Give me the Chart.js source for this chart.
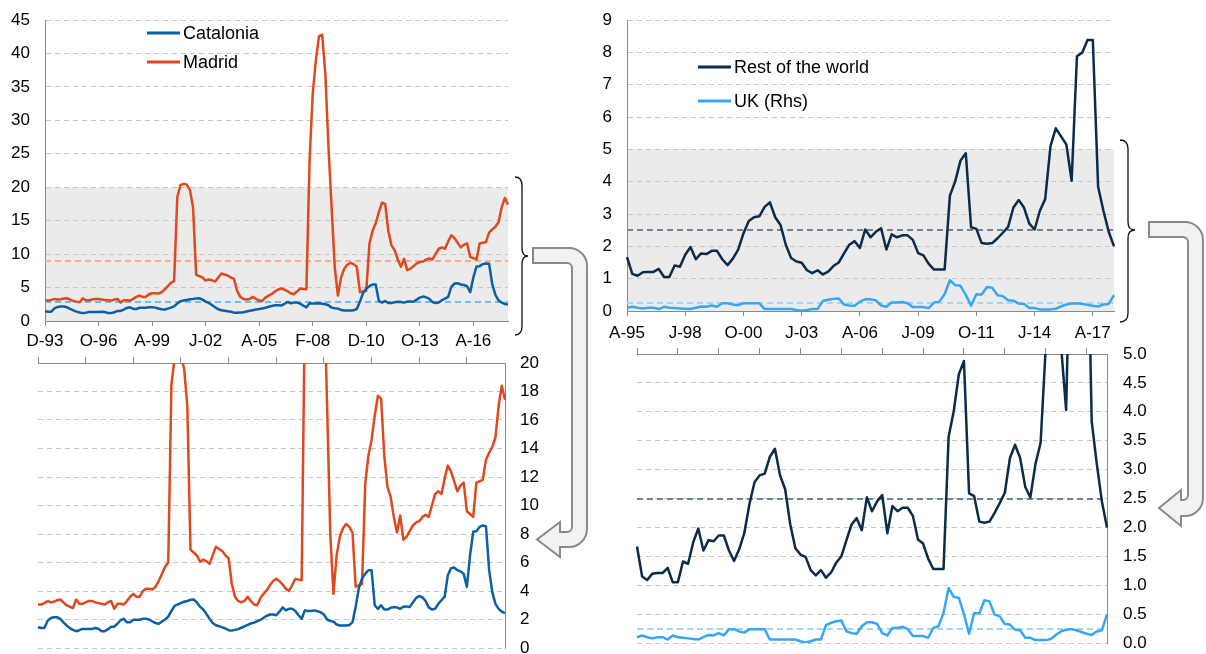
<!DOCTYPE html>
<html>
<head>
<meta charset="utf-8">
<script src="https://cdn.jsdelivr.net/npm/chart.js@4.4.1/dist/chart.umd.min.js"></script>
<style>
html, body { margin: 0; padding: 0; background: #fff; }
body { position: relative; width: 1206px; height: 654px; overflow: hidden; }
.box { position: absolute; }
#overlay { position: absolute; left: 0; top: 0; }
</style>
</head>
<body>
<div class="box" style="left:0;top:0"><canvas id="cTopLeft" width="515" height="352"></canvas></div>
<div class="box" style="left:0;top:340px"><canvas id="cBottomLeft" width="560" height="314"></canvas></div>
<div class="box" style="left:590px;top:0"><canvas id="cTopRight" width="530" height="350"></canvas></div>
<div class="box" style="left:590px;top:340px"><canvas id="cBottomRight" width="616" height="314"></canvas></div>

<svg id="overlay" width="1206" height="654">
  <!-- braces -->
  <path d="M515,177 Q522,177 522,186 L522,248 Q522,256 528,256 Q522,256 522,264 L522,326 Q522,335 515,335"
        fill="none" stroke="#111" stroke-width="1.3"/>
  <path d="M1120,140 Q1128,140 1128,149 L1128,222 Q1128,230 1135,230 Q1128,230 1128,238 L1128,313 Q1128,322 1120,322"
        fill="none" stroke="#111" stroke-width="1.3"/>
  <!-- pipe arrows -->
  <path d="M533,248 L569,248 A18,18 0 0 1 587,266 L587,529 A18,18 0 0 1 569,547 L560,547 L560,557 L537,539.5 L560,522 L560,532 L567,532 A5,5 0 0 0 572,527 L572,268 A5,5 0 0 0 567,263 L533,263 Z"
        fill="#f2f2f2" stroke="#8a8a8a" stroke-width="2"/>
  <path d="M1149,222 L1185,222 A18,18 0 0 1 1203,240 L1203,498 A18,18 0 0 1 1185,516 L1181,516 L1181,526 L1159,508 L1181,490 L1181,500 L1183,500 A5,5 0 0 0 1188,495 L1188,242 A5,5 0 0 0 1183,237 L1149,237 Z"
        fill="#f2f2f2" stroke="#8a8a8a" stroke-width="2"/>
</svg>

<script>
// --- DATA ---
const leftTickLabels = ['D-93', 'O-96', 'A-99', 'J-02', 'A-05', 'F-08', 'D-10', 'O-13', 'A-16'];
const rightTickLabels = ['A-95', 'J-98', 'O-00', 'J-03', 'A-06', 'J-09', 'O-11', 'J-14', 'A-17'];

// every 2 months from Dec-93
const catalonia = [
  1.45, 1.4, 1.4, 1.9, 2.1, 2.16, 2.16, 2.05, 1.8, 1.58,
  1.4, 1.27, 1.18, 1.25, 1.34, 1.34, 1.34, 1.34, 1.4, 1.35,
  1.18, 1.18, 1.3, 1.5, 1.5, 1.7, 1.95, 2.05, 1.8, 1.8,
  1.98, 1.98, 1.98, 2.05, 2.05, 2.0, 1.86, 1.75, 1.7, 1.85,
  2.0, 2.2, 2.6, 2.95, 3.06, 3.15, 3.25, 3.3, 3.38, 3.4,
  3.2, 2.9, 2.7, 2.4, 2.05, 1.75, 1.6, 1.53, 1.45, 1.37,
  1.25, 1.22, 1.27, 1.32, 1.42, 1.52, 1.62, 1.72, 1.78, 1.88,
  1.98, 2.12, 2.25, 2.35, 2.35, 2.3, 2.55, 2.85, 2.64, 2.75,
  2.75, 2.6, 2.3, 2.05, 2.64, 2.6, 2.6, 2.64, 2.58, 2.5,
  2.35, 2.0, 1.9, 1.85, 1.65, 1.58, 1.58, 1.58, 1.62, 1.8,
  2.9, 4.2, 4.87, 5.2, 5.46, 5.46, 3.0, 2.75, 3.0, 2.7,
  2.7, 2.82, 2.87, 2.85, 2.75, 2.9, 2.92, 2.87, 3.2, 3.5,
  3.65, 3.55, 3.3, 2.85, 2.7, 2.75, 3.1, 3.35, 3.6, 5.1,
  5.6, 5.65, 5.46, 5.38, 5.2, 4.3, 6.5, 8.16, 8.2, 8.5,
  8.6, 8.55, 5.5, 3.9, 3.1, 2.75, 2.55, 2.45
];
const madrid = [
  3.05, 3.05, 3.15, 3.3, 3.2, 3.25, 3.35, 3.4, 3.2, 3.0,
  2.9, 2.8, 3.4, 3.1, 3.1, 3.2, 3.3, 3.3, 3.2, 3.15,
  3.1, 3.05, 3.2, 3.3, 2.75, 3.1, 3.1, 3.05, 3.3, 3.6,
  3.8, 3.6, 3.6, 4.0, 4.15, 4.15, 4.1, 4.3, 4.7, 5.2,
  5.7, 6.0, 18.5, 20.3, 20.5, 20.4, 19.6, 17.0, 6.9, 6.7,
  6.5, 6.05, 6.2, 6.1, 5.9, 6.5, 7.1, 6.95, 6.8, 6.5,
  6.3, 4.5, 3.6, 3.3, 3.2, 3.3, 3.6, 3.3, 3.05, 3.0,
  3.5, 3.8, 4.05, 4.4, 4.7, 4.85, 4.7, 4.45, 4.15, 4.0,
  4.4, 4.85, 4.8, 4.75, 24, 34, 39, 42.6, 42.8, 37,
  26, 17, 8, 3.8, 6.5, 7.8, 8.4, 8.7, 8.5, 8.1,
  4.3, 4.4, 4.5, 11.5, 13.5, 14.6, 16.3, 17.7, 17.5, 13.5,
  11.3, 10.6, 9.2, 8.1, 9.3, 7.6, 7.8, 8.2, 8.6, 8.8,
  8.9, 9.2, 9.35, 9.2, 10.0, 10.8, 11.0, 10.8, 11.9, 12.8,
  12.4, 11.7, 11.0, 11.4, 11.6, 9.6, 9.4, 9.2, 11.6, 11.7,
  11.8, 13.2, 13.7, 14.1, 14.8, 17.0, 18.4, 17.4
];
// quarterly from Apr-95
const restOfWorld = [
  1.67, 1.15, 1.09, 1.2, 1.21, 1.21, 1.3, 1.05, 1.05, 1.41,
  1.37, 1.74, 1.98, 1.6, 1.78, 1.76, 1.86, 1.86, 1.6, 1.42,
  1.62, 1.9, 2.4, 2.78, 2.9, 2.93, 3.22, 3.36, 2.9, 2.66,
  2.05, 1.64, 1.53, 1.49, 1.26, 1.17, 1.26, 1.13, 1.22, 1.39,
  1.5, 1.78, 2.05, 2.16, 1.95, 2.52, 2.28, 2.45, 2.56, 1.9,
  2.37, 2.28, 2.34, 2.34, 2.2, 1.79, 1.72, 1.46, 1.28, 1.28,
  1.28, 3.57, 4.01, 4.65, 4.88, 2.59, 2.54, 2.1, 2.08, 2.1,
  2.25, 2.42, 2.6, 3.2, 3.43, 3.2, 2.7, 2.52, 3.1, 3.46,
  5.1, 5.65, 5.4, 5.15, 4.03, 7.88, 7.99, 8.38, 8.38, 3.84,
  3.1, 2.45, 2.0
];
const uk = [
  0.1, 0.13, 0.1, 0.08, 0.1, 0.1, 0.06, 0.13, 0.1, 0.09,
  0.08, 0.07, 0.06, 0.1, 0.14, 0.13, 0.17, 0.13, 0.24, 0.24,
  0.2, 0.18, 0.24, 0.24, 0.24, 0.24, 0.06, 0.06, 0.06, 0.06,
  0.06, 0.06, 0.03, 0.01, 0.03, 0.06, 0.06, 0.31, 0.35, 0.375,
  0.39, 0.2, 0.17, 0.16, 0.29, 0.36, 0.36, 0.33, 0.17, 0.13,
  0.26, 0.26, 0.28, 0.24, 0.12, 0.12, 0.12, 0.09, 0.26, 0.29,
  0.52, 0.95, 0.8, 0.78, 0.5, 0.16, 0.52, 0.51, 0.74, 0.72,
  0.49, 0.46, 0.33, 0.32, 0.23, 0.22, 0.09, 0.09, 0.05, 0.05,
  0.05, 0.07, 0.14, 0.2, 0.23, 0.24, 0.22, 0.19, 0.16, 0.14,
  0.2, 0.22, 0.49
];

// averages (dashed reference lines)
const cataloniaAvg = 2.9;
const madridAvg = 8.9;
const restAvg = 2.5;
const ukAvg = 0.25;

// --- CATEGORIES ---
const MONTHS = ['Jan', 'Feb', 'Mar', 'Apr', 'May', 'Jun', 'Jul', 'Aug', 'Sep', 'Oct', 'Nov', 'Dec'];
function monthLabels(year, month, step, count) {
    const out = [];
    for (let i = 0; i < count; i++) {
        const m = month + i * step;
        out.push(MONTHS[m % 12] + '-' + String((year + Math.floor(m / 12)) % 100).padStart(2, '0'));
    }
    return out;
}
const leftMonths = monthLabels(1993, 11, 2, madrid.length);
const rightQuarters = monthLabels(1995, 3, 3, restOfWorld.length);

// --- STYLE ---
const FONT = { family: "'Liberation Sans', Arial, sans-serif", size: 17 };
const GRID = '#c6c6c6';
const AXIS = '#8a8a8a';
const COL_CAT = '#0b5fa5';
const COL_MAD = '#e0481d';
const COL_ROW = '#0b2b4a';
const COL_UK = '#36a7f5';

Chart.defaults.font.family = FONT.family;
Chart.defaults.color = '#000';

// grey band behind the lines
const shadePlugin = {
    id: 'shade',
    beforeDraw(chart, args, opts) {
        if (opts.to == null) return;
        const { ctx, chartArea: a, scales: { y } } = chart;
        const top = y.getPixelForValue(opts.to);
        const bottom = y.getPixelForValue(0);
        ctx.save();
        ctx.fillStyle = '#ebebeb';
        ctx.fillRect(a.left, top, a.right - a.left, bottom - top);
        ctx.restore();
    }
};

// dashed average lines
const refLinesPlugin = {
    id: 'refLines',
    beforeDatasetsDraw(chart, args, opts) {
        if (!opts.lines) return;
        const { ctx, chartArea: a, scales: { y } } = chart;
        ctx.save();
        ctx.lineWidth = 2;
        ctx.setLineDash([6, 4]);
        opts.lines.forEach(l => {
            const py = Math.round(y.getPixelForValue(l.value));
            ctx.strokeStyle = l.color;
            ctx.beginPath();
            ctx.moveTo(a.left, py);
            ctx.lineTo(a.right, py);
            ctx.stroke();
        });
        ctx.restore();
    }
};

// legend placed inside the plot
const legendPlugin = {
    id: 'inLegend',
    afterDraw(chart, args, opts) {
        if (!opts.items) return;
        const ctx = chart.ctx;
        ctx.save();
        ctx.font = '18px ' + FONT.family;
        ctx.textBaseline = 'middle';
        opts.items.forEach((it, i) => {
            const y = opts.y + i * opts.gap;
            ctx.strokeStyle = it.color;
            ctx.lineWidth = 3;
            ctx.beginPath();
            ctx.moveTo(opts.x, y);
            ctx.lineTo(opts.x + 33, y);
            ctx.stroke();
            ctx.fillStyle = '#000';
            ctx.fillText(it.text, opts.x + 36, y + 1);
        });
        ctx.restore();
    }
};

function lineSet(label, data, color) {
    return {
        label, data,
        borderColor: color,
        borderWidth: 2.5,
        borderJoinStyle: 'round',
        pointRadius: 0,
        tension: 0,
        fill: false
    };
}

function fixW(w) { return s => { s.width = w; s.paddingTop = 0; s.paddingBottom = 0; }; }
function fixH(h) { return s => { s.height = h; s.paddingLeft = 0; s.paddingRight = 0; }; }

const baseOptions = {
    responsive: false,
    animation: false,
    devicePixelRatio: 1,
    events: []
};

// --- CHART 1: Catalonia / Madrid, full range ---
new Chart(document.getElementById('cTopLeft'), {
    type: 'line',
    data: {
        labels: leftMonths,
        datasets: [lineSet('Catalonia', catalonia, COL_CAT), lineSet('Madrid', madrid, COL_MAD)]
    },
    plugins: [shadePlugin, refLinesPlugin, legendPlugin],
    options: {
        ...baseOptions,
        layout: { padding: { top: 20, right: 7, left: 0, bottom: 0 } },
        plugins: {
            legend: { display: false },
            tooltip: { enabled: false },
            shade: { to: 20 },
            refLines: { lines: [{ value: madridAvg, color: '#f6ab94' }, { value: cataloniaAvg, color: '#6fbcf5' }] },
            inLegend: { x: 147, y: 33, gap: 29, items: [{ text: 'Catalonia', color: COL_CAT }, { text: 'Madrid', color: COL_MAD }] }
        },
        scales: {
            x: {
                ticks: {
                    autoSkip: false, maxRotation: 0, font: FONT, padding: 5,
                    callback: (v, i) => (i % 17 === 0 ? leftTickLabels[i / 17] : '')
                },
                grid: { drawOnChartArea: false, tickLength: 5, color: c => (c.index % 17 === 0 ? AXIS : 'rgba(0,0,0,0)') },
                border: { color: AXIS },
                afterFit: fixH(31)
            },
            y: {
                min: 0, max: 45,
                ticks: { stepSize: 5, font: FONT, padding: 15 },
                grid: { color: GRID, drawTicks: false },
                border: { color: AXIS, dash: [5, 4] },
                afterFit: fixW(45)
            }
        }
    }
});

// --- CHART 2: Catalonia / Madrid, zoom 0-20 ---
new Chart(document.getElementById('cBottomLeft'), {
    type: 'line',
    data: {
        labels: leftMonths,
        datasets: [lineSet('Catalonia', catalonia, COL_CAT), lineSet('Madrid', madrid, COL_MAD)]
    },
    options: {
        ...baseOptions,
        layout: { padding: { top: 0, right: 0, left: 38, bottom: 6 } },
        plugins: { legend: { display: false }, tooltip: { enabled: false } },
        scales: {
            x: {
                position: 'top',
                ticks: { display: false, autoSkip: false },
                grid: { drawOnChartArea: false, tickLength: 6, color: c => (c.index % 15 === 0 ? AXIS : 'rgba(0,0,0,0)') },
                border: { color: AXIS },
                afterFit: fixH(23)
            },
            y: {
                position: 'right',
                min: 0, max: 20,
                ticks: { stepSize: 2, font: FONT, padding: 15 },
                grid: { color: GRID, drawTicks: false },
                border: { color: AXIS, dash: [5, 4] },
                afterFit: fixW(55)
            }
        }
    }
});

// --- CHART 3: Rest of the world / UK, full range ---
new Chart(document.getElementById('cTopRight'), {
    type: 'line',
    data: {
        labels: rightQuarters,
        datasets: [lineSet('Rest of the world', restOfWorld, COL_ROW), lineSet('UK (Rhs)', uk, COL_UK)]
    },
    plugins: [shadePlugin, refLinesPlugin, legendPlugin],
    options: {
        ...baseOptions,
        layout: { padding: { top: 20, right: 6, left: 0, bottom: 0 } },
        plugins: {
            legend: { display: false },
            tooltip: { enabled: false },
            shade: { to: 5 },
            refLines: { lines: [{ value: restAvg, color: '#6e8298' }, { value: ukAvg, color: '#a3d4fa' }] },
            inLegend: { x: 108, y: 67, gap: 34, items: [{ text: 'Rest of the world', color: COL_ROW }, { text: 'UK (Rhs)', color: COL_UK }] }
        },
        scales: {
            x: {
                ticks: {
                    autoSkip: false, maxRotation: 0, font: FONT, padding: 7,
                    callback: (v, i) => (i % 11 === 0 ? rightTickLabels[i / 11] : '')
                },
                grid: { drawOnChartArea: false, tickLength: 5, color: c => (c.index % 11 === 0 ? AXIS : 'rgba(0,0,0,0)') },
                border: { color: AXIS },
                afterFit: fixH(39)
            },
            y: {
                min: 0, max: 9,
                ticks: { stepSize: 1, font: FONT, padding: 15 },
                grid: { color: GRID, drawTicks: false },
                border: { color: AXIS, dash: [5, 4] },
                afterFit: fixW(37)
            }
        }
    }
});

// --- CHART 4: Rest of the world / UK, zoom 0-5 ---
new Chart(document.getElementById('cBottomRight'), {
    type: 'line',
    data: {
        labels: rightQuarters,
        datasets: [lineSet('Rest of the world', restOfWorld, COL_ROW), lineSet('UK (Rhs)', uk, COL_UK)]
    },
    plugins: [refLinesPlugin],
    options: {
        ...baseOptions,
        layout: { padding: { top: 0, right: 0, left: 47, bottom: 11 } },
        plugins: {
            legend: { display: false },
            tooltip: { enabled: false },
            refLines: { lines: [{ value: restAvg, color: '#6e8298' }, { value: ukAvg, color: '#a3d4fa' }] }
        },
        scales: {
            x: {
                position: 'top',
                ticks: { display: false, autoSkip: false },
                grid: { drawOnChartArea: false, tickLength: 6, color: c => (c.index % 8 === 0 ? AXIS : 'rgba(0,0,0,0)') },
                border: { color: AXIS },
                afterFit: fixH(14)
            },
            y: {
                position: 'right',
                min: 0, max: 5,
                ticks: { stepSize: 0.5, font: FONT, padding: 16, callback: v => v.toFixed(1) },
                grid: { color: GRID, drawTicks: false },
                border: { color: AXIS, dash: [5, 4] },
                afterFit: fixW(99)
            }
        }
    }
});
</script>
</body>
</html>
